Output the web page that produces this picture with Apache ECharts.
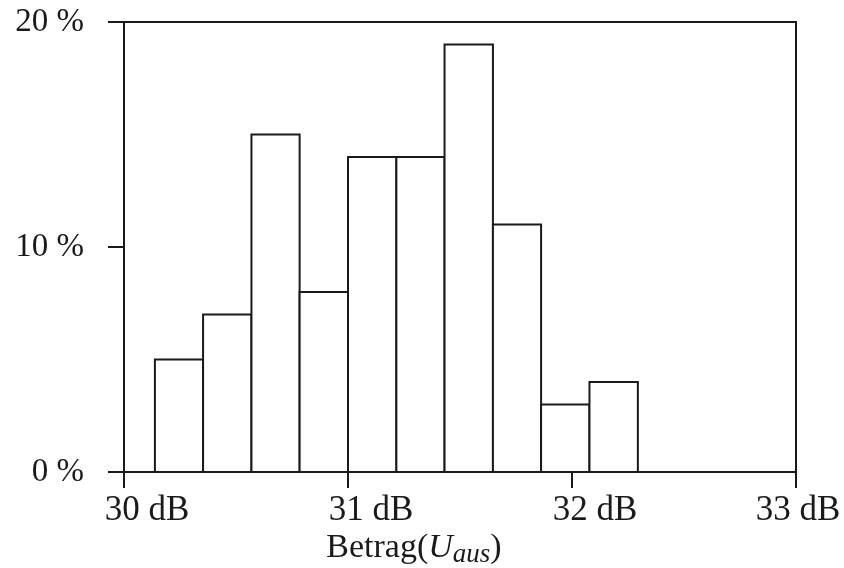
<!DOCTYPE html>
<html><head><meta charset="utf-8">
<script src="https://cdn.jsdelivr.net/npm/echarts@6/dist/echarts.min.js"></script>
<style>html,body{margin:0;padding:0;background:#fff}#c{width:844px;height:568px}</style>
</head><body><div id="c"></div>
<script>
// bin edges (dB) and share per bin (%)
const binEdges = [30.138, 30.353, 30.569, 30.784, 31.0, 31.216, 31.431, 31.647, 31.862, 32.078, 32.294];
const binValues = [5, 7, 15, 8, 14, 14, 19, 11, 3, 4];
const xTicks = [30, 31, 32, 33];
const yTicks = [0, 10, 20];

const data = binValues.map((v, i) => [binEdges[i], binEdges[i + 1], v]);
const font = 'Liberation Serif';
const ink = '#1a1a1a';
const xMax = xTicks[xTicks.length - 1];
const chart = echarts.init(document.getElementById('c'));
chart.setOption({
  animation: false,
  backgroundColor: '#fff',
  grid: { left: 124, right: 48, top: 22, bottom: 96, containLabel: false, outerBoundsMode: 'none',
          show: true, borderColor: ink, borderWidth: 2, backgroundColor: 'transparent' },
  xAxis: {
    type: 'value', min: xTicks[0], max: xMax, interval: 1,
    axisLine: { lineStyle: { color: ink, width: 2 } },
    axisTick: { length: 16, lineStyle: { color: ink, width: 2 } },
    splitLine: { show: false },
    axisLabel: {
      formatter: v => (v === xMax ? '{e|' : '{n|') + v + ' dB}',
      margin: 21,
      rich: {
        n: { fontFamily: font, fontSize: 35, color: ink, padding: [0, 0, 0, 46] },
        e: { fontFamily: font, fontSize: 35, color: ink, padding: [0, 0, 0, 4] }
      }
    },
    name: '{a|Betrag(}{i|U}{s|aus}{a|)}',
    nameLocation: 'middle', nameGap: 56, nameMoveOverlap: false,
    nameTextStyle: {
      padding: [0, 92, 0, 0],
      rich: {
        a: { fontFamily: font, fontSize: 34, color: ink, lineHeight: 40, verticalAlign: 'middle' },
        i: { fontFamily: font, fontSize: 34, fontStyle: 'italic', color: ink, lineHeight: 40, verticalAlign: 'middle' },
        s: { fontFamily: font, fontSize: 27, fontStyle: 'italic', color: ink, lineHeight: 40, verticalAlign: 'middle', padding: [14, 0, 0, 0] }
      }
    }
  },
  yAxis: {
    type: 'value', min: yTicks[0], max: yTicks[yTicks.length - 1], interval: 10,
    axisLine: { show: true, lineStyle: { color: ink, width: 2 } },
    axisTick: { show: true, length: 16, lineStyle: { color: ink, width: 2 } },
    splitLine: { show: false },
    axisLabel: { formatter: v => v + ' %', fontFamily: font, fontSize: 33, color: ink, margin: 40 }
  },
  series: [{
    type: 'custom',
    data: data,
    encode: { x: [0, 1], y: 2 },
    renderItem: (params, api) => {
      const p0 = api.coord([api.value(0), api.value(2)]);
      const p1 = api.coord([api.value(1), 0]);
      return {
        type: 'rect',
        shape: { x: p0[0], y: p0[1], width: p1[0] - p0[0], height: p1[1] - p0[1] },
        style: { fill: '#fff', stroke: ink, lineWidth: 2 }
      };
    }
  }]
});
</script></body></html>
